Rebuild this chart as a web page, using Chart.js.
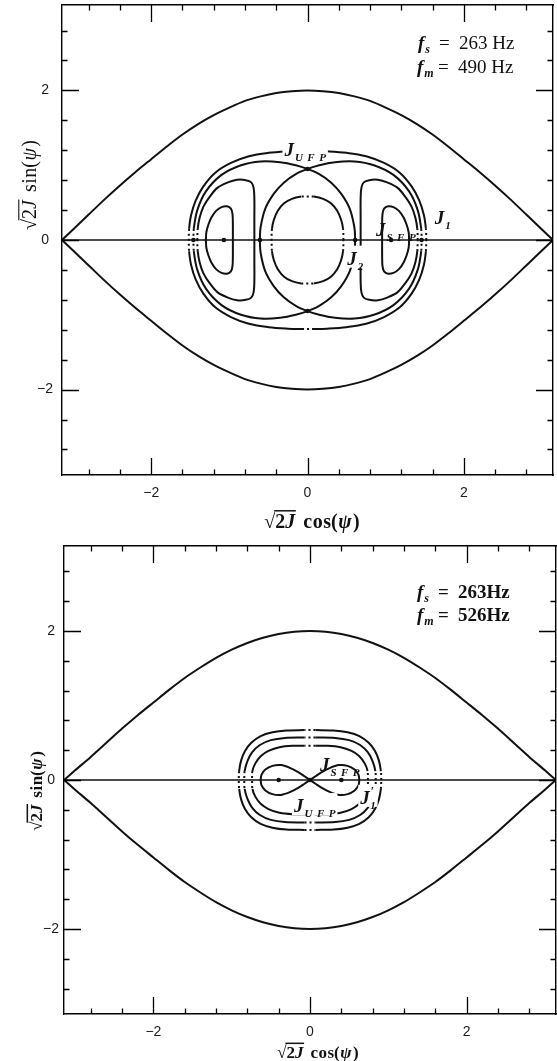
<!DOCTYPE html>
<html>
<head>
<meta charset="utf-8">
<script src="https://cdn.jsdelivr.net/npm/chart.js@4.4.1/dist/chart.umd.min.js"></script>
<style>
  html, body { margin: 0; padding: 0; background: #fff; }
  body { width: 557px; height: 1061px; position: relative; overflow: hidden; }
  .panel { position: absolute; left: 0; width: 557px; }
  #p1 { top: 0; height: 540px; }
  #p2 { top: 540px; height: 521px; }
</style>
</head>
<body>
<div class="panel" id="p1"><canvas id="c1" width="557" height="540"></canvas></div>
<div class="panel" id="p2"><canvas id="c2" width="557" height="521"></canvas></div>
<script>
// ---------- axis values ----------
const axisLimit = 3.1416;
const tickValues = [-2.8, -2.4, -2, -1.6, -1.2, -0.8, -0.4, 0, 0.4, 0.8, 1.2, 1.6, 2, 2.4, 2.8];
const majorTicks = [-2, 0, 2];

// ---------- panel 1: fs = 263 Hz, fm = 490 Hz ----------
// bucket separatrix, upper-right quarter, from (pi, 0) to (0, 2)
const bucketQuarterA = [[3.1416,0],[3.0,0.14],[2.8,0.34],[2.6,0.54],[2.4,0.73],[2.2,0.91],[2.0,1.08],
  [1.8,1.25],[1.6,1.41],[1.4,1.55],[1.2,1.67],[1.0,1.77],[0.8,1.86],[0.6,1.92],[0.4,1.965],[0.2,1.99],[0,2.0]];
// outermost invariant curve around the islands, quarter from (a,0) to (0,b)
const outerLoopQuarterA = [[1.52,0],[1.515,0.15],[1.49,0.33],[1.43,0.53],[1.33,0.72],[1.18,0.9],[0.98,1.03],
  [0.75,1.12],[0.5,1.165],[0.25,1.185],[0.07,1.19],[0,1.19]];
// left lobe of the twin separatrix (upper half, from its inner crossing to its outer edge)
const lobeHalfA = [[0.61,0],[0.6,0.17],[0.54,0.42],[0.43,0.62],[0.3,0.77],[0.15,0.88],[0,0.95],[-0.15,1.0],
  [-0.35,1.04],[-0.6,1.05],[-0.85,1.0],[-1.1,0.87],[-1.3,0.65],[-1.41,0.4],[-1.455,0.15],[-1.46,0]];
// right outer island torus (upper half)
const islandOuterHalfA = [[1.41,0],[1.405,0.15],[1.38,0.3],[1.33,0.45],[1.25,0.58],[1.15,0.7],[1.02,0.77],
  [0.9,0.805],[0.79,0.8],[0.72,0.77],[0.69,0.7],[0.68,0.55],[0.68,0.3],[0.68,0]];
// right inner island torus (upper half)
const islandInnerHalfA = [[1.3,0],[1.295,0.1],[1.27,0.2],[1.23,0.3],[1.17,0.39],[1.1,0.44],[1.03,0.45],
  [0.98,0.42],[0.96,0.35],[0.955,0.2],[0.955,0]];
// central torus inside the twin lobes, quarter
const coreQuarterA = [[0.46,0],[0.455,0.15],[0.43,0.27],[0.38,0.39],[0.3,0.49],[0.2,0.55],[0.08,0.58],[0,0.58]];
// fixed points
const fixedPointsA = [[-1.46,0],[-1.07,0],[-0.61,0],[0.61,0],[1.07,0],[1.46,0],[0,0.95],[0,-0.95]];

// ---------- panel 2: fs = 263 Hz, fm = 526 Hz ----------
const bucketQuarterB = [[3.1416,0],[3.0,0.13],[2.8,0.31],[2.6,0.5],[2.4,0.69],[2.2,0.87],[2.0,1.04],
  [1.8,1.21],[1.6,1.37],[1.4,1.51],[1.2,1.64],[1.0,1.75],[0.8,1.84],[0.6,1.91],[0.4,1.96],[0.2,1.99],[0,2.0]];
const loop1QuarterB = [[0.91,0],[0.905,0.12],[0.88,0.26],[0.83,0.39],[0.75,0.5],[0.63,0.59],[0.48,0.64],
  [0.3,0.665],[0.07,0.67],[0,0.67]];
const loop2QuarterB = [[0.84,0],[0.835,0.12],[0.8,0.25],[0.74,0.37],[0.64,0.47],[0.5,0.535],[0.32,0.565],
  [0.07,0.57],[0,0.57]];
const loop3QuarterB = [[0.74,0],[0.735,0.12],[0.7,0.22],[0.63,0.32],[0.53,0.39],[0.39,0.44],[0.2,0.46],
  [0.07,0.46],[0,0.46]];
// right lobe of the figure-eight separatrix (upper half, from the centre outwards)
const eightLobeHalfB = [[0,0],[0.07,0.05],[0.14,0.1],[0.25,0.16],[0.37,0.2],[0.48,0.19],[0.57,0.14],
  [0.62,0.07],[0.63,0]];
const fixedPointsB = [[-0.4,0],[0,0],[0.4,0]];

// ---------- geometry helpers ----------
const flipX = pts => pts.map(p => [-p[0], p[1]]);
const flipY = pts => pts.map(p => [p[0], -p[1]]);
const rev = pts => pts.slice().reverse();
function loopFromQuarter(q) {
  return [].concat(q, rev(flipX(q)), flipY(flipX(q)), rev(flipY(q)));
}
function loopFromUpperHalf(h) {
  return [].concat(h, rev(flipY(h)));
}

const INK = '#111';
const fmtTick = v => (v < 0 ? '\u2212' + Math.abs(v) : String(v));
const isMajor = v => majorTicks.some(m => Math.abs(m - v) < 1e-6);

function curve(pts, opts = {}) {
  const side = opts.side, top = opts.top;
  const inZone = (a, b) =>
    (side !== undefined && Math.abs(a.y) <= side + 1e-9 && Math.abs(b.y) <= side + 1e-9) ||
    (top !== undefined && Math.abs(a.x) <= top + 1e-9 && Math.abs(b.x) <= top + 1e-9);
  return {
    type: 'scatter',
    data: pts.map(p => ({ x: p[0], y: p[1] })),
    showLine: true,
    borderColor: INK,
    borderWidth: opts.width || 2,
    pointRadius: 0,
    tension: opts.tension === undefined ? 0.35 : opts.tension,
    fill: false,
    segment: (side !== undefined || top !== undefined)
      ? { borderDash: ctx => (inZone(ctx.p0.parsed, ctx.p1.parsed) ? [2, 3] : undefined) }
      : undefined
  };
}
function dots(pts) {
  return {
    type: 'scatter',
    data: pts.map(p => ({ x: p[0], y: p[1] })),
    showLine: false,
    pointRadius: 2.3,
    pointBackgroundColor: INK,
    pointBorderWidth: 0
  };
}

// ---------- scales ----------
function noPad(s) { s.paddingLeft = 0; s.paddingRight = 0; s.paddingTop = 0; s.paddingBottom = 0; }
function scaleSet(box, labelPad) {
  const border = { display: true, color: '#000', width: 1.4 };
  const common = { type: 'linear', min: -axisLimit, max: axisLimit, grid: { display: false, drawTicks: false }, border };
  const tickFont = { family: '"Liberation Sans", Arial, sans-serif', size: 14 };
  return {
    x: Object.assign({}, common, {
      position: 'bottom',
      afterBuildTicks: s => { s.ticks = tickValues.map(v => ({ value: v })); },
      afterFit: s => { s.height = box.bottom; noPad(s); },
      ticks: { autoSkip: false, maxRotation: 0, minRotation: 0, padding: labelPad.x, color: '#1a1a1a',
        font: tickFont, callback: v => (isMajor(v) ? fmtTick(v) : '') }
    }),
    x2: Object.assign({}, common, {
      position: 'top', afterFit: s => { s.height = box.top; noPad(s); }, ticks: { display: false }
    }),
    y: Object.assign({}, common, {
      position: 'left',
      afterBuildTicks: s => { s.ticks = tickValues.map(v => ({ value: v })); },
      afterFit: s => { s.width = box.left; noPad(s); },
      ticks: { autoSkip: false, padding: labelPad.y, crossAlign: 'center', color: '#1a1a1a',
        font: tickFont, callback: v => (isMajor(v) ? fmtTick(v) : '') }
    }),
    y2: Object.assign({}, common, {
      position: 'right', afterFit: s => { s.width = box.right; noPad(s); }, ticks: { display: false }
    })
  };
}

// inward tick marks on all four sides of the frame
const innerTicks = {
  id: 'innerTicks',
  afterDraw(chart) {
    const { ctx, chartArea: a, scales } = chart;
    const xs = scales.x, ys = scales.y;
    ctx.save();
    ctx.strokeStyle = '#000';
    ctx.lineWidth = 1.3;
    ctx.beginPath();
    xs.ticks.forEach(t => {
      const px = Math.round(xs.getPixelForValue(t.value)) + 0.5;
      const L = isMajor(t.value) ? 17 : 5.5;
      ctx.moveTo(px, a.bottom); ctx.lineTo(px, a.bottom - L);
      ctx.moveTo(px, a.top); ctx.lineTo(px, a.top + L);
    });
    ys.ticks.forEach(t => {
      const py = Math.round(ys.getPixelForValue(t.value)) + 0.5;
      const L = isMajor(t.value) ? 17 : 5.5;
      ctx.moveTo(a.left, py); ctx.lineTo(a.left + L, py);
      ctx.moveTo(a.right, py); ctx.lineTo(a.right - L, py);
    });
    ctx.stroke();
    ctx.restore();
  }
};

// ---------- text drawing ----------
const SERIF = '"Liberation Serif", "DejaVu Serif", serif';
function measurePieces(ctx, pieces) {
  let total = 0;
  pieces.forEach(p => {
    ctx.font = p.font;
    let w = 0;
    for (const ch of p.t) w += ctx.measureText(ch).width + (p.ls || 0);
    if (p.ls) w -= p.ls;
    w += (p.after || 0);
    p._w = w;
    total += w;
  });
  return total;
}
function drawPieces(ctx, x, y, pieces, align) {
  const total = measurePieces(ctx, pieces);
  let cx = align === 'center' ? x - total / 2 : (align === 'right' ? x - total : x);
  const x0 = cx;
  ctx.textAlign = 'left';
  ctx.textBaseline = 'alphabetic';
  pieces.forEach(p => {
    ctx.font = p.font;
    if (p.at !== undefined) cx = x + p.at;
    p._x0 = cx;
    let px = cx;
    for (const ch of p.t) {
      ctx.fillText(ch, px, y + (p.dy || 0));
      px += ctx.measureText(ch).width + (p.ls || 0);
    }
    cx += p._w;
    p._x1 = cx - (p.after || 0);
  });
  return { x0, total };
}

// J label with small-capital subscript, optionally on a white patch
function jLabel(ctx, px, py, sub, prime, patch) {
  const pieces = [{ t: 'J', font: `italic bold 19px ${SERIF}`, after: 1 }];
  if (prime) pieces.push({ t: '\u2032', font: `bold 12px ${SERIF}`, dy: -9, after: -4 });
  pieces.push({ t: sub, font: `italic bold 11px ${SERIF}`, dy: 5, ls: sub.length > 1 ? 4.5 : 0 });
  const w = measurePieces(ctx, pieces);
  if (patch) {
    ctx.fillStyle = '#fff';
    ctx.fillRect(px - w / 2 - 2, py - 13, w + 4, 22);
  }
  ctx.fillStyle = INK;
  drawPieces(ctx, px, py + 6, pieces, 'center');
}

// sqrt(2J) trig(psi) axis title; overline drawn over the radicand
function rootTitle(ctx, cx, cy, trig, size, weight, rotate) {
  ctx.save();
  ctx.translate(cx, cy);
  if (rotate) ctx.rotate(-Math.PI / 2);
  ctx.fillStyle = INK;
  const f = `${weight} ${size}px ${SERIF}`;
  const fi = `italic ${weight} ${size}px ${SERIF}`;
  const pieces = [
    { t: '\u221A', font: f },
    { t: '2', font: f },
    { t: 'J', font: fi, after: size * 0.4 },
    { t: trig, font: f, ls: 0.5 },
    { t: '(', font: f, after: 0.5 },
    { t: '\u03C8', font: fi, after: 1.5 },
    { t: ')', font: f }
  ];
  const base = size * 0.35;
  drawPieces(ctx, 0, base, pieces, 'center');
  ctx.strokeStyle = INK;
  ctx.lineWidth = weight === 'bold' ? 1.5 : 1.1;
  ctx.beginPath();
  const yTop = base - size * 0.86;
  ctx.moveTo(pieces[0]._x1 - 1.2, yTop);
  ctx.lineTo(pieces[2]._x1 + 0.5, yTop);
  ctx.stroke();
  ctx.restore();
}

// frequency annotation: symbol, '=' and value each start at a fixed column
function freqLine(ctx, x, y, subscript, value, weight) {
  ctx.fillStyle = INK;
  drawPieces(ctx, x, y, [
    { t: 'f', font: `italic bold 19px ${SERIF}`, after: 1 },
    { t: subscript, font: `italic bold 12px ${SERIF}`, dy: 4 },
    { t: '=', font: `${weight} 19px ${SERIF}`, at: 21 },
    { t: value, font: `${weight} 19px ${SERIF}`, at: 41 }
  ], 'left');
}

function annotations(draw) {
  return { id: 'annotations', afterDatasetsDraw(chart) { const c = chart.ctx; c.save(); draw(chart, c); c.restore(); } };
}

function bucketDatasets(q) {
  const upper = [].concat(flipX(q), rev(q).slice(1));
  return [
    curve(upper, { tension: 0.2 }),
    curve(flipY(upper), { tension: 0.2 }),
    curve([[-axisLimit, 0], [axisLimit, 0]], { width: 1.5, tension: 0 })
  ];
}

function baseOptions(box, labelPad) {
  return {
    responsive: false,
    animation: false,
    events: [],
    layout: { padding: 0, autoPadding: false },
    plugins: { legend: { display: false }, tooltip: { enabled: false } },
    scales: scaleSet(box, labelPad)
  };
}

// ---------- panel 1 ----------
const lobeLeftA = loopFromUpperHalf(lobeHalfA);
new Chart(document.getElementById('c1'), {
  type: 'scatter',
  data: {
    datasets: [
      ...bucketDatasets(bucketQuarterA),
      curve(loopFromQuarter(outerLoopQuarterA), { side: 0.15, top: 0.07 }),
      curve(lobeLeftA, { side: 0.15 }),
      curve(flipX(lobeLeftA), { side: 0.15 }),
      curve(loopFromUpperHalf(islandOuterHalfA), { side: 0.15 }),
      curve(flipX(loopFromUpperHalf(islandOuterHalfA)), { side: 0.15 }),
      curve(loopFromUpperHalf(islandInnerHalfA)),
      curve(flipX(loopFromUpperHalf(islandInnerHalfA))),
      curve(loopFromQuarter(coreQuarterA), { side: 0.15, top: 0.08 }),
      dots(fixedPointsA)
    ]
  },
  options: baseOptions({ left: 62, right: 4, top: 5, bottom: 65 }, { x: 10, y: 9 }),
  plugins: [innerTicks, annotations((chart, ctx) => {
    const { x, y } = chart.scales;
    jLabel(ctx, x.getPixelForValue(-0.03), y.getPixelForValue(1.2), 'UFP', false, true);
    jLabel(ctx, x.getPixelForValue(1.13), y.getPixelForValue(0.14), 'SFP', false, false);
    jLabel(ctx, x.getPixelForValue(1.73), y.getPixelForValue(0.3), '1', false, false);
    jLabel(ctx, x.getPixelForValue(0.61), y.getPixelForValue(-0.25), '2', false, true);
    freqLine(ctx, 418, 49, 's', '263 Hz', 'normal');
    freqLine(ctx, 417, 73, 'm', '490 Hz', 'normal');
    rootTitle(ctx, 312, 521, 'cos', 20, 'bold', false);
    rootTitle(ctx, 29, 185, 'sin', 20, 'normal', true);
  })]
});

// ---------- panel 2 ----------
const eightB = [].concat(eightLobeHalfB, rev(flipY(eightLobeHalfB)), flipX(eightLobeHalfB), rev(flipY(flipX(eightLobeHalfB))));
new Chart(document.getElementById('c2'), {
  type: 'scatter',
  data: {
    datasets: [
      ...bucketDatasets(bucketQuarterB),
      curve(loopFromQuarter(loop1QuarterB), { side: 0.12, top: 0.07 }),
      curve(loopFromQuarter(loop2QuarterB), { side: 0.12, top: 0.07 }),
      curve(loopFromQuarter(loop3QuarterB), { side: 0.12, top: 0.07 }),
      curve(eightB, { tension: 0.3 }),
      dots(fixedPointsB)
    ]
  },
  options: baseOptions({ left: 64, right: 1, top: 6, bottom: 47 }, { x: 10, y: 5 }),
  plugins: [innerTicks, annotations((chart, ctx) => {
    const { x, y } = chart.scales;
    jLabel(ctx, x.getPixelForValue(0.38), y.getPixelForValue(0.2), 'SFP', false, false);
    jLabel(ctx, x.getPixelForValue(0.06), y.getPixelForValue(-0.35), 'UFP', false, true);
    jLabel(ctx, x.getPixelForValue(0.74), y.getPixelForValue(-0.24), '1', true, true);
    freqLine(ctx, 417, 58, 's', '263Hz', 'bold');
    freqLine(ctx, 417, 81, 'm', '526Hz', 'bold');
    rootTitle(ctx, 318, 512, 'cos', 17, 'bold', false);
    rootTitle(ctx, 36, 251, 'sin', 17, 'bold', true);
  })]
});
</script>
</body>
</html>
